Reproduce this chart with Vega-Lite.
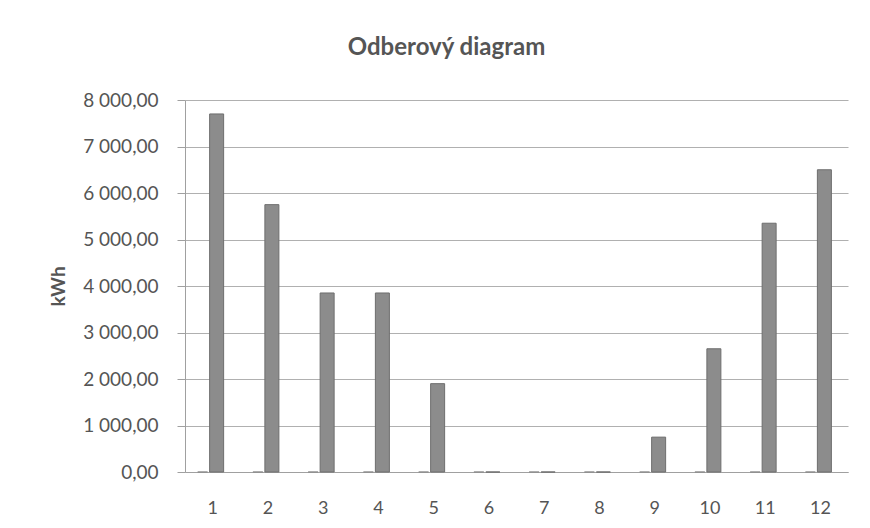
{
  "$schema": "https://vega.github.io/schema/vega-lite/v6.json",
  "width": 663,
  "height": 372,
  "autosize": {"type": "none"},
  "padding": {"left": 185, "top": 100, "right": 22, "bottom": 56},
  "background": "white",
  "config": {
    "locale": {"number": {"decimal": ",", "thousands": " ", "grouping": [3], "currency": ["", ""]}},
    "view": {"stroke": null},
    "font": "Lato"
  },
  "title": {
    "text": "Odberový diagram",
    "fontSize": 24,
    "fontWeight": "bold",
    "color": "#555555",
    "font": "Lato",
    "offset": 31,
    "anchor": "middle",
    "dx": -70
  },
  "data": {
    "values": [
      {"mesiac": "1", "kWh": 7700},
      {"mesiac": "2", "kWh": 5750},
      {"mesiac": "3", "kWh": 3850},
      {"mesiac": "4", "kWh": 3850},
      {"mesiac": "5", "kWh": 1900},
      {"mesiac": "6", "kWh": 0},
      {"mesiac": "7", "kWh": 0},
      {"mesiac": "8", "kWh": 0},
      {"mesiac": "9", "kWh": 750},
      {"mesiac": "10", "kWh": 2650},
      {"mesiac": "11", "kWh": 5350},
      {"mesiac": "12", "kWh": 6500}
    ]
  },
  "encoding": {
    "x": {
      "field": "mesiac",
      "type": "ordinal",
      "sort": null,
      "scale": {"paddingInner": 0, "paddingOuter": 0},
      "axis": {
        "title": null,
        "labelAngle": 0,
        "labelFontSize": 18,
        "labelColor": "#555555",
        "labelPadding": 27,
        "ticks": false,
        "domainColor": "#a0a0a0",
        "grid": false
      }
    },
    "y": {
      "field": "kWh",
      "type": "quantitative",
      "scale": {"domain": [0, 8000], "nice": false},
      "axis": {
        "title": "kWh",
        "titleFontSize": 19,
        "titleFontWeight": "bold",
        "titleColor": "#555555",
        "titlePadding": 14,
        "format": ",.2f",
        "values": [0, 1000, 2000, 3000, 4000, 5000, 6000, 7000, 8000],
        "labelFontSize": 19,
        "labelColor": "#555555",
        "labelPadding": 19,
        "tickSize": 8,
        "tickColor": "#a0a0a0",
        "domainColor": "#a0a0a0",
        "gridColor": "#b0b0b0",
        "gridWidth": 1.2
      }
    }
  },
  "layer": [
    {
      "mark": {"type": "tick", "orient": "horizontal", "size": 10, "thickness": 2, "color": "#8a8a8a", "xOffset": -10},
      "encoding": {"y": {"datum": 0}}
    },
    {
      "mark": {"type": "bar", "size": 14, "color": "#8c8c8c", "stroke": "#6e6e6e", "strokeWidth": 1, "xOffset": 4}
    }
  ]
}
